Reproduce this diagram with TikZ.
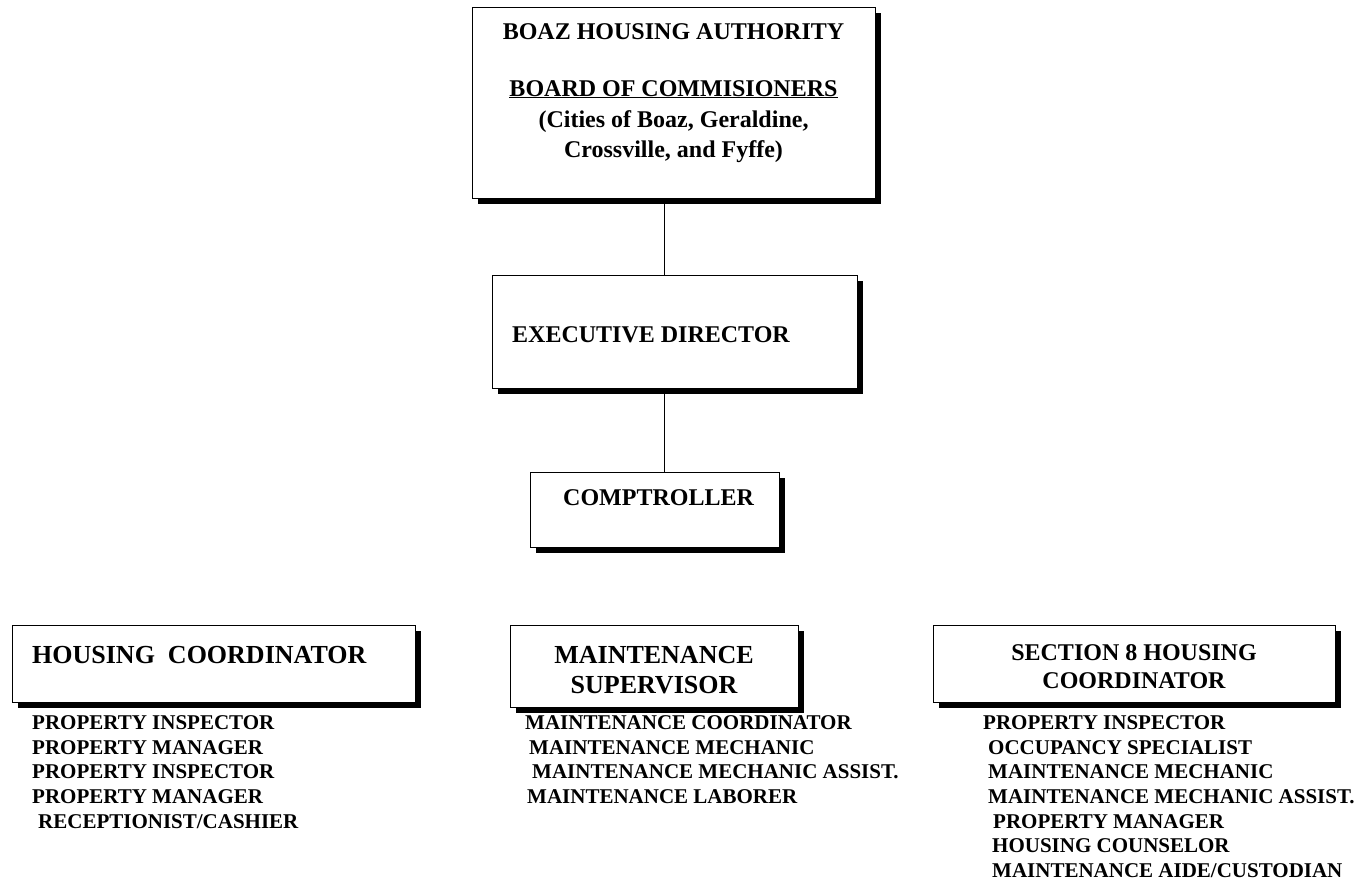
\documentclass[tikz,border=0pt]{standalone}
\usepackage{fontspec}
\setmainfont{Liberation Serif}
\usetikzlibrary{shadows}
\tikzset{
  box/.style={draw=black, line width=0.8pt, fill=white, inner sep=0pt,
    general shadow={fill=black, shadow xshift=6pt, shadow yshift=-6pt}},
  conn/.style={draw=black, line width=1pt},
  ttl/.style={inner sep=0pt, font=\bfseries\fontsize{24}{28}\selectfont},
  hdr/.style={inner sep=0pt, font=\bfseries\fontsize{26}{30}\selectfont},
  item/.style={inner sep=0pt, anchor=base west, font=\bfseries\fontsize{21}{25}\selectfont}
}
\begin{document}
\begin{tikzpicture}[x=1pt, y=-1pt]
\useasboundingbox (0,0) rectangle (1366,883);
% boxes
\node[box, minimum width=403pt, minimum height=191pt] (board) at (673.5,102.5) {};
\node[box, minimum width=365pt, minimum height=113pt] (exec) at (674.5,331.5) {};
\node[box, minimum width=249pt, minimum height=75pt] (comp) at (654.5,509.5) {};
\node[box, minimum width=403pt, minimum height=77pt] (hc) at (213.5,663.5) {};
\node[box, minimum width=288pt, minimum height=82pt] (ms) at (654,666) {};
\node[box, minimum width=402pt, minimum height=77pt] (s8) at (1134,663.5) {};
% connectors
\coordinate (cx) at (664,0);
\draw[conn] (board.south -| cx) -- (exec.north -| cx);
\draw[conn] (exec.south -| cx) -- (comp.north -| cx);
% texts
\node[ttl, anchor=base] (b1) at (673.5,40) {BOAZ HOUSING AUTHORITY};
\node[ttl, anchor=base] (b2) at (673.5,96) {\underline{BOARD OF COMMISIONERS}};
\node[ttl, anchor=base] (b3) at (673.5,127) {(Cities of Boaz, Geraldine,};
\node[ttl, anchor=base] (b4) at (673.5,157) {Crossville, and Fyffe)};
\node[ttl, anchor=base west] (et) at (512,342) {EXECUTIVE DIRECTOR};
\node[ttl, anchor=base west] (ct) at (563,505) {COMPTROLLER};
\node[hdr, anchor=base west] (hct) at (32,663) {HOUSING\ \ COORDINATOR};
\node[hdr, anchor=base] (ms1) at (654,663) {MAINTENANCE};
\node[hdr, anchor=base] (ms2) at (654,693) {SUPERVISOR};
\node[ttl, anchor=base] (s81) at (1134,660) {SECTION 8 HOUSING};
\node[ttl, anchor=base] (s82) at (1134,688) {COORDINATOR};
% left list
\node[item] (l1) at (32,729) {PROPERTY INSPECTOR};
\node[item] (l2) at (32,754) {PROPERTY MANAGER};
\node[item] (l3) at (32,778) {PROPERTY INSPECTOR};
\node[item] (l4) at (32,803) {PROPERTY MANAGER};
\node[item] (l5) at (38,828) {RECEPTIONIST/CASHIER};
% middle list
\node[item] (m1) at (525,729) {MAINTENANCE COORDINATOR};
\node[item] (m2) at (529,754) {MAINTENANCE MECHANIC};
\node[item] (m3) at (532,778) {MAINTENANCE MECHANIC ASSIST.};
\node[item] (m4) at (527,803) {MAINTENANCE LABORER};
% right list
\node[item] (r1) at (983,729) {PROPERTY INSPECTOR};
\node[item] (r2) at (988,754) {OCCUPANCY SPECIALIST};
\node[item] (r3) at (988,778) {MAINTENANCE MECHANIC};
\node[item] (r4) at (988,803) {MAINTENANCE MECHANIC ASSIST.};
\node[item] (r5) at (993,828) {PROPERTY MANAGER};
\node[item] (r6) at (992,852) {HOUSING COUNSELOR};
\node[item] (r7) at (992,877) {MAINTENANCE AIDE/CUSTODIAN};
\end{tikzpicture}
\end{document}
